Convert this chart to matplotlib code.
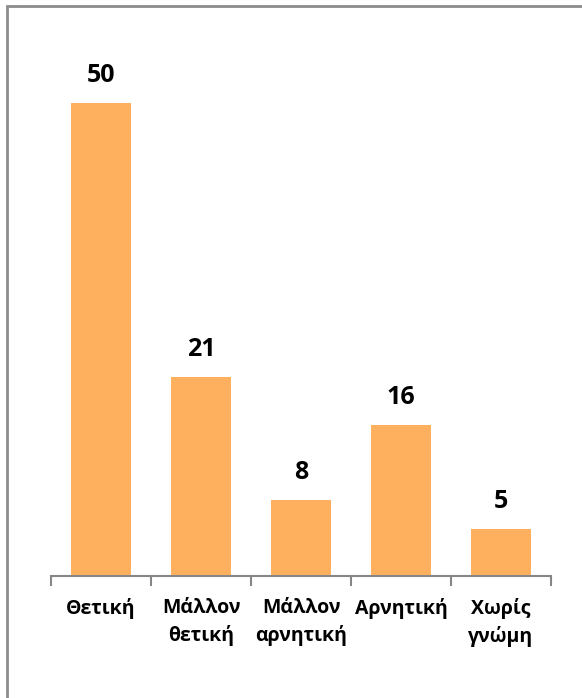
import matplotlib.pyplot as plt
from matplotlib.patches import Rectangle

categories = ['Θετική', 'Μάλλον\nθετική', 'Μάλλον\nαρνητική', 'Αρνητική', 'Χωρίς\nγνώμη']
values = [50, 21, 8, 16, 5]

plt.rcParams['font.family'] = ['Open Sans', 'DejaVu Sans']

W, H = 582, 698
fig = plt.figure(figsize=(W / 100, H / 100), dpi=100)

# outer frame like the spreadsheet chart area
fig.patches.append(Rectangle((7 / W, -0.1), 1.2, (H - 6) / H + 0.1, transform=fig.transFigure,
                             fill=False, edgecolor='#8c8c8c', linewidth=2))

ax = fig.add_axes([51 / W, (H - 576) / H, 500 / W, 546 / H])
x = range(len(categories))
bars = ax.bar(x, values, width=0.6, color='#FFB05F')
ax.set_xlim(-0.5, len(categories) - 0.5)
ax.set_ylim(0, 546 / 9.46)

for b, v in zip(bars, values):
    ax.text(b.get_x() + b.get_width() / 2, v + 1.6, str(v), ha='center', va='bottom',
            fontsize=18, fontweight='bold')

for s in ['top', 'right', 'left']:
    ax.spines[s].set_visible(False)
ax.spines['bottom'].set_color('#868686')
ax.spines['bottom'].set_linewidth(1.5)
ax.set_yticks([])
ax.set_xticks([i - 0.5 for i in range(len(categories) + 1)], minor=False)
ax.set_xticklabels([])
ax.tick_params(axis='x', which='major', length=7, width=1.5, color='#868686')
ax.set_xticks(list(x), minor=True)
ax.set_xticklabels(categories, minor=True, fontsize=14, fontweight='bold', linespacing=1.45)
ax.tick_params(axis='x', which='minor', length=0, pad=16)

fig.savefig('out.png', dpi=100)
